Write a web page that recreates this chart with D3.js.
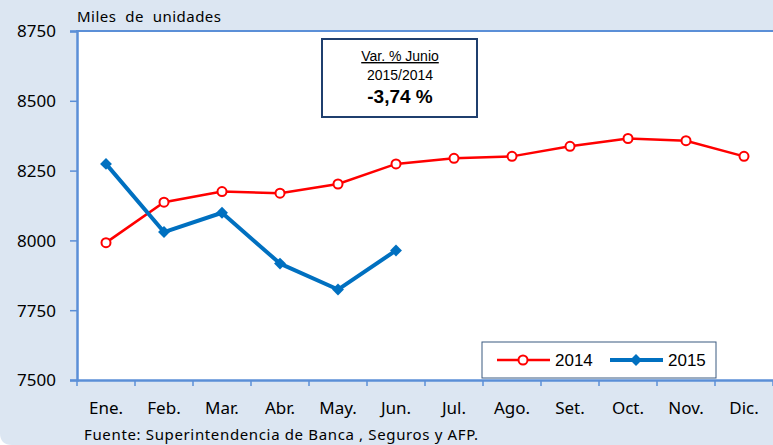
<!DOCTYPE html>
<html><head><meta charset="utf-8">
<script src="https://cdn.jsdelivr.net/npm/d3@7"></script>
<style>html,body{margin:0;padding:0;background:#fff;}svg{display:block;}</style>
</head><body>
<svg id="c" width="773" height="445"></svg>
<script>
const months = ["Ene.","Feb.","Mar.","Abr.","May.","Jun.","Jul.","Ago.","Set.","Oct.","Nov.","Dic."];
const series2014 = [7992,8137,8175,8169,8202,8274,8294,8301,8337,8365,8357,8301];
const series2015 = [8274,8030,8099,7917,7824,7964];
const yTicks = [7500,7750,8000,8250,8500,8750];
const unitLabel = "Miles  de  unidades";
const sourceLabel = "Fuente: Superintendencia de Banca , Seguros y AFP.";
const boxLines = ["Var. % Junio","2015/2014","-3,74 %"];
const legendNames = ["2014","2015"];

const svg = d3.select("#c");
const W = 773, H = 445;
const fontF = "'Noto Sans', 'Open Sans', sans-serif";
svg.append("path")
  .attr("d", `M0,0 H${W} V${H} H12 Q0,${H} 0,${H-12} Z`)
  .attr("fill", "#dce6f2");

const m = {l:77, r:773, t:31, b:380};
const x = d3.scaleBand().domain(months).range([m.l, m.r]);
const y = d3.scaleLinear().domain([7500,8750]).range([m.b, m.t]);

svg.append("rect").attr("x", m.l).attr("y", m.t).attr("width", m.r - m.l).attr("height", m.b - m.t).attr("fill", "#fff");

const axisColor = "#5b8fd7";
svg.append("line").attr("x1", m.l-1).attr("x2", W).attr("y1", m.t).attr("y2", m.t).attr("stroke", axisColor).attr("stroke-width", 2);

const yAxis = svg.append("g").attr("transform", `translate(${m.l},0)`)
  .call(d3.axisLeft(y).tickValues(yTicks).tickSize(7).tickPadding(14).tickFormat(d3.format("d")));
yAxis.select(".domain").attr("stroke", axisColor).attr("stroke-width", 2.5);
yAxis.selectAll(".tick line").attr("stroke", axisColor).attr("stroke-width", 1.5);
yAxis.selectAll("text").attr("font-family", fontF).attr("font-size", 17).attr("fill", "#000").attr("dy", "0.35em");

const xAxis = svg.append("g").attr("transform", `translate(0,${m.b})`)
  .call(d3.axisBottom(x).tickSize(0).tickPadding(22));
xAxis.select(".domain").attr("stroke", axisColor).attr("stroke-width", 2.5);
xAxis.selectAll("text").attr("font-family", fontF).attr("font-size", 17).attr("fill", "#000");
const edges = months.map(d => x(d)).concat([x(months[months.length-1]) + x.bandwidth()]);
svg.append("g").selectAll("line").data(edges).join("line")
  .attr("x1", d => d).attr("x2", d => d).attr("y1", m.b).attr("y2", m.b + 6)
  .attr("stroke", axisColor).attr("stroke-width", 1.5);

svg.append("text").attr("x", m.l).attr("y", 22).attr("font-family", fontF).attr("font-size", 15)
  .style("white-space", "pre").attr("xml:space", "preserve")
  .attr("textLength", 144).attr("lengthAdjust", "spacing").text(unitLabel);
svg.append("text").attr("x", 84).attr("y", 440).attr("font-family", fontF).attr("font-size", 15)
  .attr("textLength", 394).attr("lengthAdjust", "spacing").text(sourceLabel);

const cx = (d, i) => x(months[i]) + x.bandwidth()/2;
const line = d3.line().x((d,i) => cx(d,i)).y(d => y(d));

svg.append("path").datum(series2014).attr("d", line).attr("fill", "none").attr("stroke", "#ff0000").attr("stroke-width", 2.5);
svg.append("g").selectAll("circle").data(series2014).join("circle")
  .attr("cx", cx).attr("cy", d => y(d)).attr("r", 4.5).attr("fill", "#fff").attr("stroke", "#ff0000").attr("stroke-width", 2);

const blue = "#0070c0";
svg.append("path").datum(series2015).attr("d", line).attr("fill", "none").attr("stroke", blue).attr("stroke-width", 4).attr("stroke-linejoin", "round");
const diamond = d3.symbol().type(d3.symbolDiamond2).size(90);
svg.append("g").selectAll("path").data(series2015).join("path")
  .attr("d", diamond).attr("transform", (d,i) => `translate(${cx(d,i)},${y(d)})`).attr("fill", blue);

svg.append("rect").attr("x", 322).attr("y", 39).attr("width", 155).attr("height", 78)
  .attr("fill", "#fff").attr("stroke", "#1f3f6e").attr("stroke-width", 2);
const bx = 400;
const arial = "Arial, 'Liberation Sans', sans-serif";
svg.append("text").attr("x", bx).attr("y", 61).attr("text-anchor", "middle").attr("font-family", arial).attr("font-size", 14).attr("text-decoration", "underline").text(boxLines[0]);
svg.append("text").attr("x", bx).attr("y", 80).attr("text-anchor", "middle").attr("font-family", arial).attr("font-size", 14).text(boxLines[1]);
svg.append("text").attr("x", bx).attr("y", 103).attr("text-anchor", "middle").attr("font-family", arial).attr("font-size", 19).attr("font-weight", "bold").text(boxLines[2]);

const lg = svg.append("g");
lg.append("rect").attr("x", 482).attr("y", 342).attr("width", 234).attr("height", 36).attr("fill", "#fff").attr("stroke", "#3b5a80").attr("stroke-width", 1);
const ly = 360;
lg.append("line").attr("x1", 497).attr("x2", 550).attr("y1", ly).attr("y2", ly).attr("stroke", "#ff0000").attr("stroke-width", 2.5);
lg.append("circle").attr("cx", 523).attr("cy", ly).attr("r", 4.5).attr("fill", "#fff").attr("stroke", "#ff0000").attr("stroke-width", 2);
lg.append("text").attr("x", 555).attr("y", ly + 6).attr("font-family", arial).attr("font-size", 17).text(legendNames[0]);
lg.append("line").attr("x1", 610).attr("x2", 663).attr("y1", ly).attr("y2", ly).attr("stroke", blue).attr("stroke-width", 4);
lg.append("path").attr("d", diamond).attr("transform", `translate(636,${ly})`).attr("fill", blue);
lg.append("text").attr("x", 668).attr("y", ly + 6).attr("font-family", arial).attr("font-size", 17).text(legendNames[1]);
</script>
</body></html>
